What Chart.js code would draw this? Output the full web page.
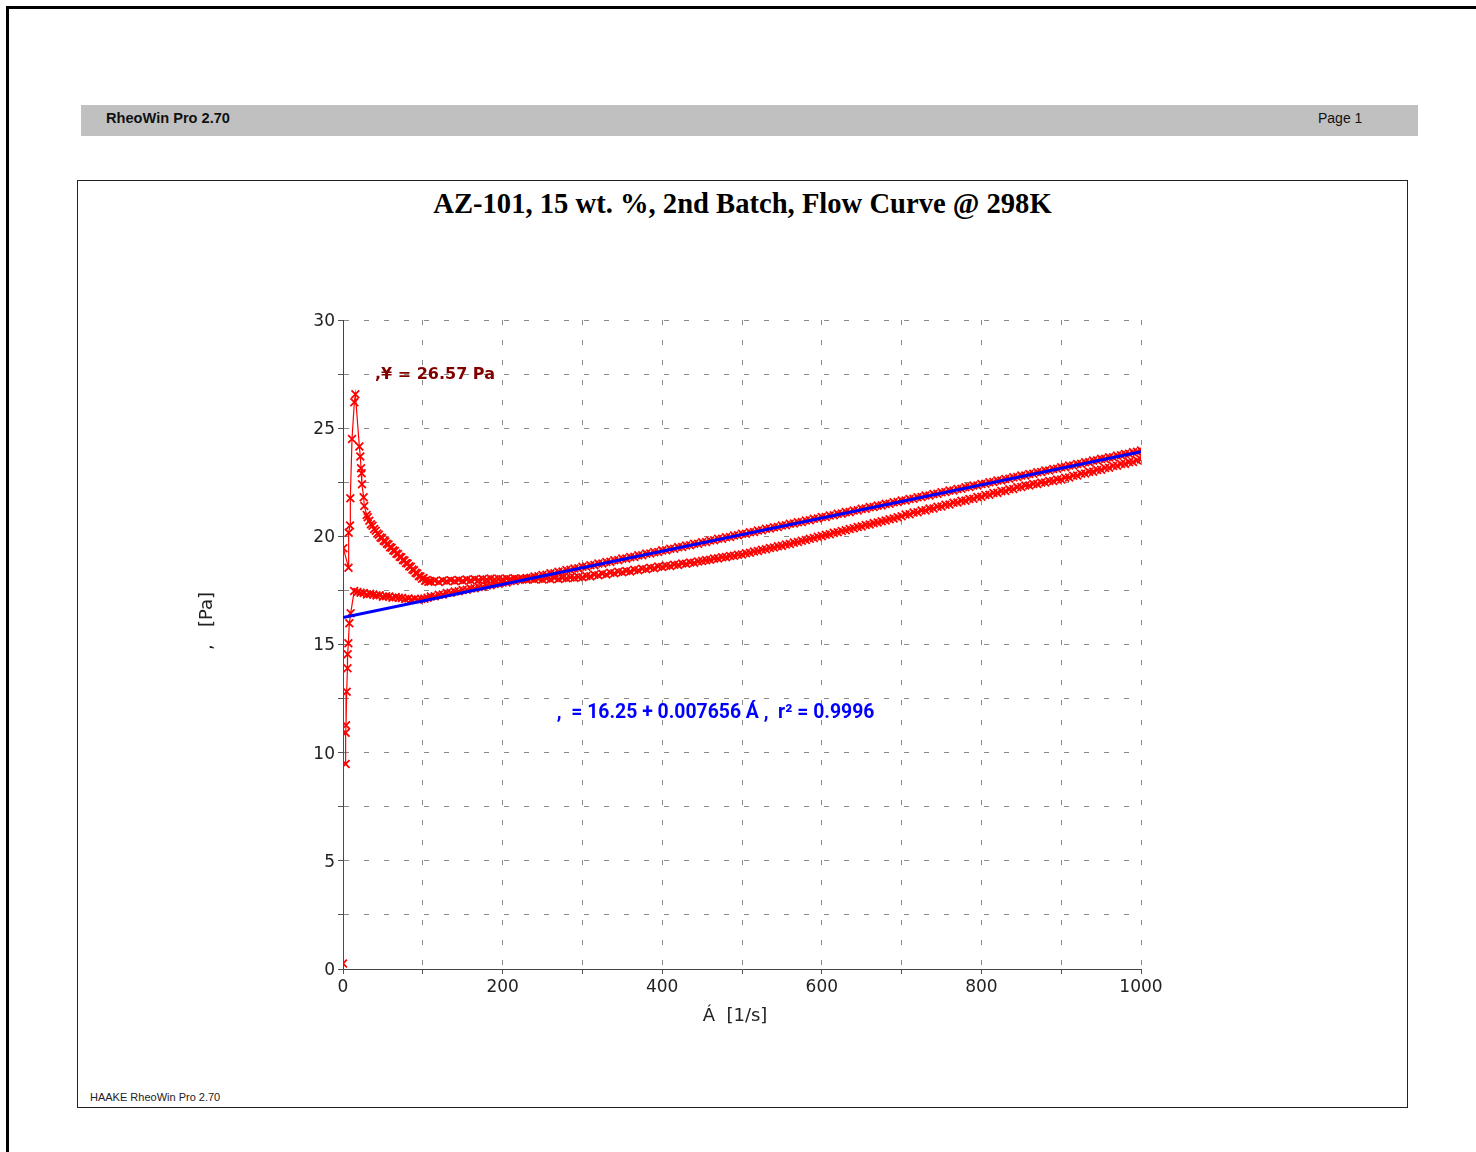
<!DOCTYPE html>
<html>
<head>
<meta charset="utf-8">
<script src="https://cdn.jsdelivr.net/npm/chart.js@4.4.1/dist/chart.umd.min.js"></script>
<style>
  html, body { margin:0; padding:0; background:#fff; }
  body { width:1476px; height:1152px; position:relative; overflow:hidden; font-family:"Liberation Sans", Arial, sans-serif; }
  .pageframe { position:absolute; left:6px; top:6px; width:1480px; height:1160px; border-top:3px solid #000; border-left:3px solid #000; }
  .hdr { position:absolute; left:81px; top:105px; width:1337px; height:31px; background:#c0c0c0; }
  .hdr span { position:absolute; top:0; line-height:26px; font-size:14px; color:#111; }
  .hdr .l { left:25px; font-weight:bold; font-size:14.6px; }
  .hdr .r { left:1237px; }
  .box { position:absolute; left:77px; top:180px; width:1329px; height:926px; border:1px solid #222; }
  .title { position:absolute; left:77px; width:1331px; top:188px; text-align:center; font-family:"Liberation Serif", "Times New Roman", serif; font-weight:bold; font-size:28.6px; color:#000; }
  .foot { position:absolute; left:90px; top:1091px; font-size:11px; color:#222; }
  #c { position:absolute; left:0; top:0; z-index:2; }
</style>
</head>
<body>
<div class="pageframe"></div>
<div class="hdr"><span class="l">RheoWin Pro 2.70</span><span class="r">Page 1</span></div>
<div class="box"></div>
<div class="title">AZ-101, 15 wt. %, 2nd Batch, Flow Curve @ 298K</div>
<div class="foot">HAAKE RheoWin Pro 2.70</div>
<canvas id="c" width="1476" height="1152"></canvas>
<script>
// ---------------- data ----------------
const xAxisTitle = "\u00C1  [1/s]";
const yAxisTitle = ",   [Pa]";
const yieldLabel = ",\u00A5 = 26.57 Pa";
const fitLabel = ",  = 16.25 + 0.007656 \u00C1 ,  r\u00B2 = 0.9996";
const yieldLabelAt = { x: 40, y: 27.45 };
const fitLabelAt = { x: 268, y: 11.83 };

// start-up: jump to the yield peak
const startRate   = [0, 0.4, 6.9, 7.1, 8.8, 9.2, 11.3, 14.2, 15.5, 20.5, 21.7, 22.6, 23.4, 23.8, 25.9, 26.7, 29.7];
const startStress = [0.25, 19.45, 18.55, 20.17, 20.5, 21.76, 24.5, 26.2, 26.57, 24.15, 23.69, 23.15, 22.92, 22.41, 21.81, 21.4, 20.99];

// breakdown after the peak, shear rate 31 ... 109 (step 2)
const declineStress = [20.88,20.72,20.56,20.49,20.34,20.26,20.13,20.07,19.95,19.92,19.80,19.76,19.66,19.62,19.50,19.47,19.35,19.32,19.20,19.18,
  19.06,19.03,18.91,18.88,18.77,18.74,18.62,18.59,18.47,18.43,18.32,18.28,18.17,18.14,18.04,18.07,17.95,17.98,17.90,17.93];

// up ramp, shear rate 110 ... 1000 (step 5)
const upStress = [17.91,17.95,17.89,17.96,17.92,17.97,17.93,17.98,
  17.95,18.00,17.97,18.02,17.98,18.03,18.00,18.05,18.01,18.04,
  18.02,18.05,18.01,18.06,18.02,18.04,18.00,18.05,18.01,18.04,
  18.01,18.05,18.02,18.07,18.03,18.08,18.06,18.10,18.08,18.12,
  18.11,18.17,18.15,18.22,18.20,18.27,18.24,18.32,18.29,18.36,
  18.34,18.40,18.38,18.45,18.43,18.50,18.48,18.55,18.53,18.60,
  18.58,18.64,18.63,18.69,18.68,18.74,18.73,18.79,18.78,18.84,
  18.86,18.90,18.92,18.97,18.98,19.03,19.04,19.09,19.10,19.15,
  19.16,19.22,19.24,19.30,19.32,19.38,19.40,19.46,19.48,19.54,
  19.56,19.62,19.65,19.71,19.74,19.80,19.83,19.89,19.92,19.98,
  20.01,20.07,20.10,20.16,20.19,20.25,20.28,20.34,20.37,20.43,
  20.46,20.52,20.55,20.61,20.64,20.70,20.73,20.79,20.82,20.88,
  20.93,21.01,21.02,21.10,21.11,21.19,21.20,21.28,21.29,21.37,
  21.38,21.46,21.47,21.55,21.56,21.64,21.65,21.73,21.74,21.82,
  21.83,21.91,21.92,22.00,22.01,22.09,22.10,22.18,22.19,22.27,
  22.28,22.35,22.35,22.42,22.42,22.49,22.49,22.56,22.56,22.63,
  22.63,22.71,22.72,22.80,22.81,22.89,22.90,22.98,22.99,23.07,
  23.08,23.16,23.17,23.25,23.26,23.34,23.35,23.43,23.44,23.52,
  23.55];

// down ramp, shear rate 1000 ... 110 (step -5)
const downStress = [23.97,23.91,23.89,23.82,23.81,23.75,23.73,23.66,23.65,23.58,
  23.58,23.51,23.50,23.43,23.42,23.35,23.34,23.27,23.27,23.20,
  23.19,23.12,23.11,23.04,23.04,22.97,22.96,22.89,22.88,22.81,
  22.81,22.74,22.73,22.66,22.65,22.58,22.58,22.51,22.50,22.43,
  22.42,22.35,22.35,22.28,22.27,22.20,22.19,22.12,22.12,22.05,
  22.04,21.97,21.96,21.89,21.89,21.82,21.81,21.74,21.73,21.66,
  21.66,21.59,21.58,21.51,21.50,21.43,21.42,21.36,21.35,21.28,
  21.27,21.20,21.19,21.12,21.12,21.05,21.04,20.97,20.96,20.89,
  20.89,20.82,20.81,20.74,20.73,20.66,20.65,20.59,20.58,20.51,
  20.50,20.43,20.42,20.36,20.35,20.28,20.27,20.20,20.19,20.12,
  20.12,20.05,20.04,19.97,19.96,19.89,19.89,19.82,19.81,19.74,
  19.73,19.66,19.66,19.59,19.58,19.51,19.50,19.43,19.43,19.36,
  19.35,19.28,19.27,19.21,19.20,19.13,19.12,19.05,19.04,18.97,
  18.97,18.90,18.89,18.82,18.81,18.74,18.74,18.67,18.66,18.59,
  18.59,18.52,18.51,18.45,18.44,18.37,18.36,18.29,18.29,18.22,
  18.21,18.15,18.14,18.08,18.07,18.01,18.00,17.94,17.94,17.87,
  17.87,17.81,17.80,17.74,17.73,17.67,17.66,17.60,17.59,17.53,
  17.52,17.46,17.45,17.39,17.38,17.31,17.30,17.23,
  17.22];

// down ramp tail, shear rate 106 ... 14 (step -4)
const tailStress = [17.16,17.12,17.10,17.07,17.11,17.08,17.13,17.10,17.15,17.16,17.19,17.16,17.22,17.23,17.21,17.28,17.27,17.31,17.34,17.31,17.38,17.39,17.43,17.47];

// final points near zero shear rate
const endRate   = [9.6, 7.9, 6.7, 5.8, 5.6, 4.6, 3.8, 3.3, 3.3];
const endStress = [16.44, 15.98, 15.06, 14.55, 13.9, 12.82, 11.27, 10.92, 9.48];

// linear regression line (end points)
const fitRate   = [0, 1000];
const fitStress = [16.25, 23.906];

// shear-rate sampling of the ramps
function rates(a, b, s) { const r = []; for (let v = a; s > 0 ? v <= b + 1e-9 : v >= b - 1e-9; v += s) r.push(+v.toFixed(3)); return r; }
const declineRate = rates(31, 109, 2);
const upRate = rates(110, 1000, 5);
const downRate = rates(1000, 110, -5);
const tailRate = rates(106, 14, -4);

function pts(xs, ys) { return xs.map((x, i) => ({ x: x, y: ys[i] })); }
const redPoints = [].concat(
  pts(startRate, startStress), pts(declineRate, declineStress), pts(upRate, upStress),
  pts(downRate, downStress), pts(tailRate, tailStress), pts(endRate, endStress));

const FONT = "DejaVu Sans";

const overlay = {
  id: 'overlay',
  afterDatasetsDraw(chart) {
    const { ctx, scales: { x, y } } = chart;
    ctx.save();
    ctx.textBaseline = 'middle';
    ctx.textAlign = 'left';
    ctx.fillStyle = '#800000';
    ctx.font = 'bold 16px ' + FONT;
    ctx.fillText(yieldLabel, x.getPixelForValue(yieldLabelAt.x), y.getPixelForValue(yieldLabelAt.y));
    ctx.fillStyle = '#0000ff';
    ctx.font = 'bold 19.4px Roboto';
    ctx.fillText(fitLabel, x.getPixelForValue(fitLabelAt.x), y.getPixelForValue(fitLabelAt.y));
    // axis titles
    ctx.fillStyle = '#222';
    ctx.font = '18px ' + FONT;
    ctx.textAlign = 'center';
    ctx.fillText(xAxisTitle, 735, 1016);
    ctx.translate(207, 621);
    ctx.rotate(-Math.PI / 2);
    ctx.fillText(yAxisTitle, 0, 0);
    ctx.restore();
  }
};

new Chart(document.getElementById('c'), {
  type: 'scatter',
  data: {
    datasets: [
      {
        label: 'fit',
        type: 'line',
        data: pts(fitRate, fitStress),
        borderColor: '#0000ff',
        borderWidth: 3,
        pointRadius: 0,
        showLine: true,
        order: 0
      },
      {
        label: 'shear stress',
        data: redPoints,
        showLine: true,
        borderColor: '#ff0000',
        borderWidth: 1.2,
        pointStyle: 'crossRot',
        pointRadius: 5.5,
        pointBorderWidth: 1.8,
        pointBorderColor: '#ff0000',
        order: 1
      }
    ]
  },
  options: {
    responsive: false,
    animation: false,
    events: [],
    layout: { padding: { left: 250, right: 335, top: 320, bottom: 123 } },
    plugins: { legend: { display: false }, tooltip: { enabled: false }, title: { display: false } },
    scales: {
      x: {
        type: 'linear', min: 0, max: 1000,
        afterFit(s) { s.height = 60; },
        ticks: {
          stepSize: 100, padding: 3, color: '#222', font: { family: FONT, size: 17 },
          maxRotation: 0, autoSkip: false,
          callback: v => (v % 200 === 0 ? String(v) : '')
        },
        grid: { color: '#8a8a8a', lineWidth: 1, drawTicks: true, tickLength: 5, tickColor: '#555' },
        border: { display: true, color: '#444', width: 1, dash: [5, 15] }
      },
      y: {
        type: 'linear', min: 0, max: 30,
        afterFit(s) { s.width = 93; },
        ticks: {
          stepSize: 2.5, padding: 3, labelOffset: 1.5, color: '#222', font: { family: FONT, size: 17 },
          autoSkip: false,
          callback: v => (v % 5 === 0 ? String(v) : '')
        },
        grid: { color: '#8a8a8a', lineWidth: 1, drawTicks: true, tickLength: 5, tickColor: '#555' },
        border: { display: true, color: '#444', width: 1, dash: [5, 15] }
      }
    }
  },
  plugins: [overlay]
});
</script>
</body>
</html>
